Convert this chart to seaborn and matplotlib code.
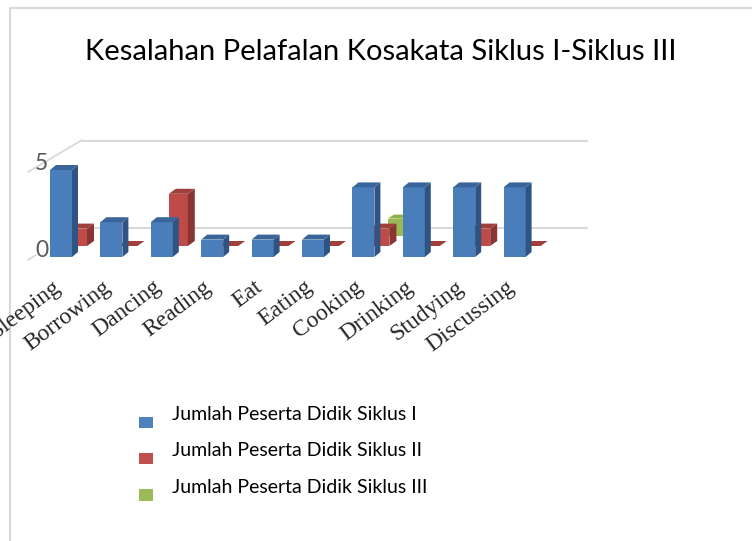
import matplotlib
matplotlib.use("Agg")
import matplotlib.pyplot as plt
import pandas as pd
import seaborn as sns
from matplotlib.legend_handler import HandlerPatch
from matplotlib.lines import Line2D
from matplotlib.patches import Patch, Polygon, Rectangle
from matplotlib.transforms import ScaledTranslation

categories = ["Sleeping", "Borrowing", "Dancing", "Reading", "Eat", "Eating",
              "Cooking", "Drinking", "Studying", "Discussing"]
siklus_1 = [5, 2, 2, 1, 1, 1, 4, 4, 4, 4]
siklus_2 = [1, 0, 3, 0, 0, 0, 1, 0, 1, 0]
siklus_3 = [0, 0, 0, 0, 0, 0, 1, 0, 0, 0]
series_names = ["Jumlah Peserta Didik Siklus I", "Jumlah Peserta Didik Siklus II",
                "Jumlah Peserta Didik Siklus III"]
title_text = "Kesalahan Pelafalan Kosakata Siklus I-Siklus III"

W, H = 752, 541
sns.set_theme(style="white")
fig = plt.figure(figsize=(W / 100, H / 100), dpi=100, facecolor="white")


def px_axes(left, base_y, width, height, z):
    ax = fig.add_axes([left / W, 1 - base_y / H, width / W, height / H], zorder=z)
    ax.set_facecolor("none")
    for s in ax.spines.values():
        s.set_visible(False)
    return ax


# chart frame
fig.add_artist(Line2D([10 / W, 10 / W, 1], [0, 1 - 8 / H, 1 - 8 / H], color="#d9d9d9", lw=1.5))

# back wall with gridlines
wall = px_axes(82, 228, 505, 87, 1)
wall.set_xlim(0, 1)
wall.set_ylim(0, 5)
wall.set_xticks([])
wall.set_yticks([0, 5])
wall.set_yticklabels([])
wall.tick_params(left=False)
wall.grid(axis="y", color="#d9d9d9", lw=1.5, clip_on=False)
fig.add_artist(Line2D([28 / W, 82 / W], [1 - 172 / H, 1 - 140 / H], color="#d9d9d9", lw=1.3))
fig.add_artist(Line2D([28 / W, 36 / W], [1 - 260 / H, 1 - 255 / H], color="#d9d9d9", lw=1.3))


def bars3d(values, left, base_y, bar_w, dx, dy, cols, z, skip_zero=False):
    ax = px_axes(left, base_y, 504, 87, z)
    df = pd.DataFrame({"k": categories, "v": values})
    sns.barplot(data=df, x="k", y="v", color=cols[0], saturation=1, width=bar_w / 50.4,
                ax=ax, errorbar=None, linewidth=0, edgecolor="none")
    ax.set_xlim(-0.5, 9.5)
    ax.set_ylim(0, 5)
    ax.set_xlabel("")
    ax.set_ylabel("")
    ddx, ddy = dx / 50.4, dy / 17.4
    for p in list(ax.patches):
        x0, w, h = p.get_x(), p.get_width(), p.get_height()
        p.set_clip_on(False)
        if skip_zero and h == 0:
            continue
        x1 = x0 + w
        ax.add_patch(Polygon([(x1, 0), (x1 + ddx, ddy), (x1 + ddx, h + ddy), (x1, h)],
                             fc=cols[1], ec="none", clip_on=False))
        ax.add_patch(Polygon([(x0, h), (x1, h), (x1 + ddx, h + ddy), (x0 + ddx, h + ddy)],
                             fc=cols[2], ec="none", clip_on=False))
    return ax


green = bars3d(siklus_3, 35.8 + 33, 236, 17, 6, 4, ("#98b954", "#76923c", "#8eb24a"), 2, True)
red = bars3d(siklus_2, 35.8 + 16.5, 246, 19, 7, 5, ("#be4b48", "#8a3533", "#a03f3c"), 3)
blue = bars3d(siklus_1, 35.8, 257, 22, 6, 5, ("#4a7ebb", "#2f5483", "#3a659a"), 4)

for ax in (green, red):
    ax.set_xticks([])
    ax.set_yticks([])

blue.set_yticks([0, 5])
blue.set_yticklabels(["0", "5"], family="Lato", fontsize=16.5, color="#595959", va="baseline")
blue.tick_params(axis="y", left=False, pad=-15)
blue.set_xticks(range(len(categories)))
blue.set_xticklabels(categories, family="Liberation Serif", fontsize=17, color="#262626",
                     rotation=37, ha="right", rotation_mode="anchor")
blue.tick_params(axis="x", bottom=False, pad=8)
shift = ScaledTranslation(-9 / 100, 0, fig.dpi_scale_trans)
for lab in blue.get_xticklabels():
    lab.set_transform(lab.get_transform() + shift)

fig.text(380.5 / W, 1 - 52 / H, title_text, family="Lato", fontsize=21, color="black",
         ha="center", va="center")


def low_swatch(legend, orig_handle, xdescent, ydescent, width, height, fontsize):
    return Rectangle((-xdescent, -ydescent - 6), 10, 8)


handles = [Patch(fc=c, ec="none") for c in ("#4f81bd", "#c0504d", "#9bbb59")]
fig.legend(handles, series_names, loc="upper left", bbox_to_anchor=(139 / W, 1 - 406 / H),
           frameon=False, prop={"family": "Lato", "size": 14}, labelcolor="black",
           handlelength=0.72, handleheight=0.6, handletextpad=1.0, labelspacing=1.0,
           borderpad=0, borderaxespad=0,
           handler_map={Patch: HandlerPatch(patch_func=low_swatch)})

fig.savefig("out.png", dpi=100)
